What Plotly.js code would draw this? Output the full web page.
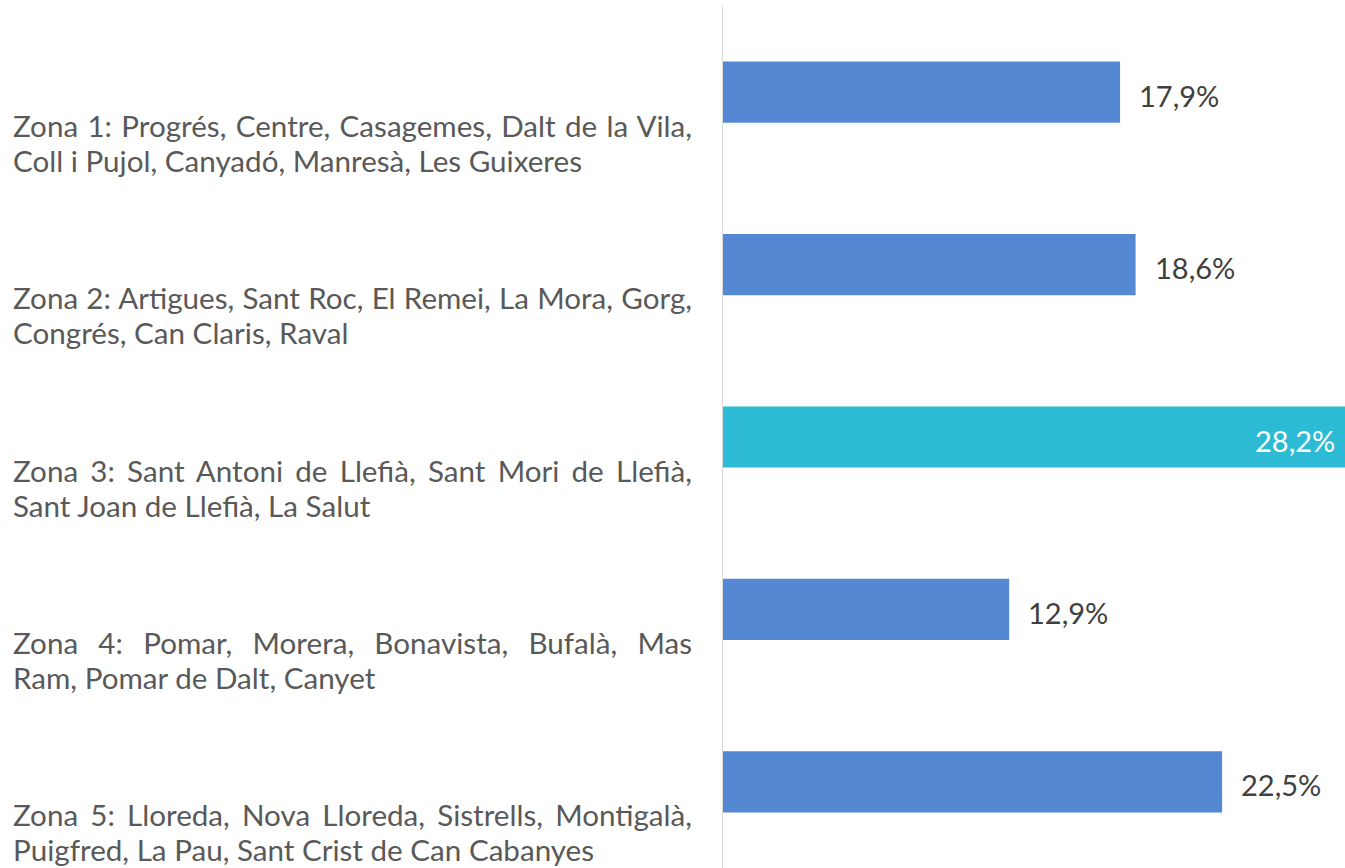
<!DOCTYPE html>
<html>
<head>
<meta charset="utf-8">
<script src="https://cdn.plot.ly/plotly-3.0.1.min.js"></script>
<style>
html,body{margin:0;padding:0;background:#fff;}
#chart{width:1345px;height:868px;}
</style>
</head>
<body>
<div id="chart"></div>
<script>
// ---- data ----
const categories = [
  "Zona 1: Progrés, Centre, Casagemes, Dalt de la Vila,<br>Coll i Pujol, Canyadó, Manresà, Les Guixeres",
  "Zona 2: Artigues, Sant Roc, El Remei, La Mora, Gorg,<br>Congrés, Can Claris, Raval",
  "Zona 3: Sant Antoni de Llefià, Sant Mori de Llefià,<br>Sant Joan de Llefià, La Salut",
  "Zona 4: Pomar, Morera, Bonavista, Bufalà, Mas<br>Ram, Pomar de Dalt, Canyet",
  "Zona 5: Lloreda, Nova Lloreda, Sistrells, Montigalà,<br>Puigfred, La Pau, Sant Crist de Can Cabanyes"
];
const values = [17.9, 18.6, 28.2, 12.9, 22.5];
const highlighted = [false, false, true, false, false];

// ---- styles ----
const FONT = "Lato, 'Open Sans', sans-serif";
const LABEL_SIZE = 29.6;
const BLUE = "#5588D2";
const CYAN = "#2DBAD4";
const XMAX = 28.04;

const positions = categories.map((c, i) => i);
const colors = highlighted.map(h => h ? CYAN : BLUE);
const fmt = v => v.toFixed(1).replace('.', ',') + '%';

const trace = {
  type: 'bar',
  orientation: 'h',
  x: values,
  y: positions,
  width: 0.355,
  marker: {color: colors},
  hoverinfo: 'skip'
};

const annotations = [];
categories.forEach((c, i) => {
  annotations.push({
    xref: 'paper', yref: 'y',
    x: 0, y: positions[i] + 0.302,
    xanchor: 'right', yanchor: 'middle',
    xshift: -30,
    width: 679, borderpad: 0,
    align: 'left',
    text: c, showarrow: false,
    font: {family: FONT, size: LABEL_SIZE, color: '#595959'}
  });
});
values.forEach((v, i) => {
  const inside = v > XMAX;
  annotations.push({
    xref: 'x', yref: 'y',
    x: inside ? XMAX : v, y: positions[i],
    xanchor: inside ? 'right' : 'left', yanchor: 'middle',
    xshift: inside ? -8 : 17, yshift: -3,
    text: fmt(v), showarrow: false,
    font: {family: FONT, size: 29, color: inside ? '#FFFFFF' : '#404040'}
  });
});

const layout = {
  width: 1345, height: 868,
  margin: {l: 723, r: 0, t: 6, b: 0, pad: 0},
  paper_bgcolor: '#fff', plot_bgcolor: '#fff',
  showlegend: false,
  xaxis: {range: [0, XMAX], visible: false, fixedrange: true},
  yaxis: {
    range: [4.5, -0.5], showticklabels: false, showgrid: false, zeroline: false,
    showline: true, linecolor: '#D9D9D9', linewidth: 1.5, ticks: '', fixedrange: true
  },
  annotations: annotations
};

Plotly.newPlot('chart', [trace], layout, {staticPlot: true}).then(() => {
  // justify the label lines (all but the last line of each label) and tighten line spacing
  categories.forEach((c, i) => {
    const g = document.querySelector('g.annotation[data-index="' + i + '"]');
    if (!g) return;
    const lines = g.querySelectorAll('text.annotation-text tspan.line');
    lines.forEach((ln, k) => {
      if (k > 0) ln.setAttribute('dy', (35 / LABEL_SIZE) + 'em');
      if (k < lines.length - 1) {
        const txt = ln.textContent;
        const spaces = (txt.match(/ /g) || []).length;
        const len = ln.getComputedTextLength();
        if (spaces > 0) ln.style.wordSpacing = ((679 - len) / spaces) + 'px';
      }
    });
  });
});
</script>
</body>
</html>
